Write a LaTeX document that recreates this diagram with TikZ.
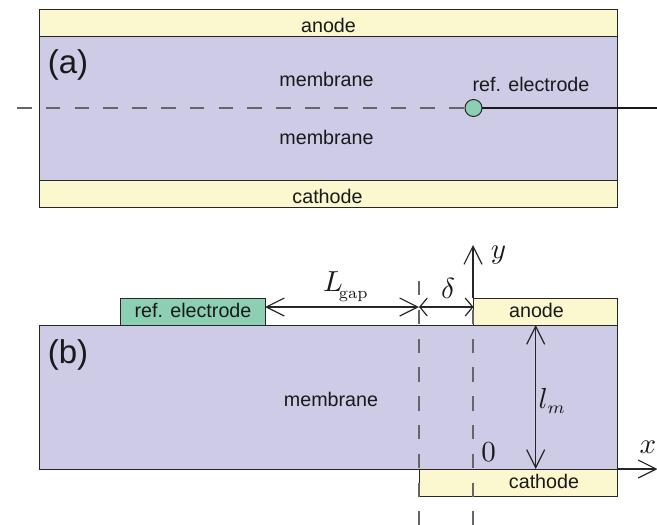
\documentclass[tikz,border=0pt]{standalone}
\usepackage{fontspec}
\setsansfont{Liberation Sans}
\usetikzlibrary{arrows.meta}
\definecolor{memb}{HTML}{CDCBE6}
\definecolor{elec}{HTML}{FBF7CE}
\definecolor{refc}{HTML}{8CCFB3}
\tikzset{
  x=1pt,y=-1pt,
  region/.style={draw=black!85,line width=1pt,outer sep=0pt,inner sep=0pt,anchor=north west},
  membrane/.style={region,fill=memb},
  electrode/.style={region,fill=elec},
  refbox/.style={region,fill=refc},
  lbl/.style={font=\fontsize{19.7}{22}\sffamily,text=black!90,inner sep=0pt},
  panel/.style={font=\fontsize{33}{36}\sffamily,text=black!90,inner sep=0pt},
  mathlbl/.style={scale=2.9,inner sep=0pt,text=black!90},
  barb/.style={-{Straight Barb[length=18pt,width=18pt,line width=1.2pt]}},
  dbarb/.style={{Straight Barb[length=18pt,width=18pt,line width=1.2pt]}-{Straight Barb[length=18pt,width=18pt,line width=1.2pt]}},
  sbarb/.style={{Straight Barb[length=7.5pt,width=18pt,line width=1.2pt]}-{Straight Barb[length=7.5pt,width=18pt,line width=1.2pt]}},
  conn/.style={line width=1.2pt,draw=black!85},
  dashline/.style={line width=1.1pt,draw=black!60,dash pattern=on 14.5pt off 14.3pt},
}
\begin{document}
\begin{tikzpicture}
\useasboundingbox (0,0) rectangle (657,525);
% panel (a)
\node[membrane,minimum width=577.5pt,minimum height=144.5pt] (ma) at (39.5,36) {};
\node[electrode,minimum width=577.5pt,minimum height=26.5pt] (aa) at (39.5,9.5) {};
\node[electrode,minimum width=577.5pt,minimum height=27pt] (ca) at (39.5,180.5) {};
\node[lbl] (aat) at (328.5,25.5) {anode};
\node[lbl] (cat) at (327.5,196.5) {cathode};
\node[lbl] (m1) at (326.5,79.5) {membrane};
\node[lbl] (m2) at (326.5,137.5) {membrane};
\node[panel] (pa) at (68,64.5) {(a)};
\node[lbl] (rat) at (531,84.5) {ref. electrode};
\node[draw=black!85,line width=1pt,fill=refc,circle,minimum size=17pt,inner sep=0pt,outer sep=0pt] (rc) at (473.5,108) {};
\coordinate (dl) at (17,108);
\coordinate (sr) at (657,108);
\draw[dashline] (dl) -- (rc.west);
\draw[line width=1.2pt,draw=black!90] (rc.east) -- (sr);
% panel (b)
\node[membrane,minimum width=577.5pt,minimum height=144pt] (mb) at (39.5,325) {};
\node[refbox,minimum width=144.5pt,minimum height=27pt] (rb) at (120.5,298) {};
\node[electrode,minimum width=144pt,minimum height=27pt] (ab) at (473,298) {};
\node[electrode,minimum width=198pt,minimum height=27pt] (cb) at (419,469) {};
\node[lbl] at (193,310) {ref. electrode};
\node[lbl] (abt) at (536.5,310.5) {anode};
\node[lbl] (cbt) at (544,481.5) {cathode};
\node[lbl] (m3) at (331,399.5) {membrane};
\node[panel] (pb) at (68,355) {(b)};
% guide lines
\coordinate (g1t) at (419,280.9);
\coordinate (g1b) at (419,525);
\coordinate (g2t) at (473,309.7);
\coordinate (g2b) at (473,525);
\draw[dashline] (g1t) -- (g1b);
\draw[dashline] (g2t) -- (g2b);
% dimensions
\coordinate (gm) at (419,307);
\coordinate (ax0) at (473,298);
\coordinate (ayt) at (473,245);
\coordinate (ar) at (473.5,307);
\coordinate (rr) at (265,307);
\coordinate (xs) at (617,469);
\coordinate (xe) at (657.5,469);
\coordinate (lt) at (535.7,325);
\coordinate (lb) at (535.7,469);
\draw[conn,barb] (ax0) -- (ayt);
\draw[conn,barb] (xs) -- (xe);
\draw[conn,dbarb] (rr) -- (gm);
\draw[conn,sbarb] (gm) -- (ar);
\draw[conn,dbarb] (lt) -- (lb);
% math labels
\node[mathlbl] (lgap) at (346,287) {$L_{\!\raisebox{-1pt}{\scalebox{.8}{$\scriptstyle\mathrm{gap}$}}}$};
\node[mathlbl] (del) at (448,288) {$\delta$};
\node[mathlbl] (yl) at (498.5,255) {$y$};
\node[mathlbl] (xl) at (648,447) {$x$};
\node[mathlbl] (zl) at (488.5,452) {$0$};
\node[mathlbl] (lm) at (552.5,401) {$l_{\scalebox{.85}{$\scriptstyle m$}}$};
\end{tikzpicture}
\end{document}
